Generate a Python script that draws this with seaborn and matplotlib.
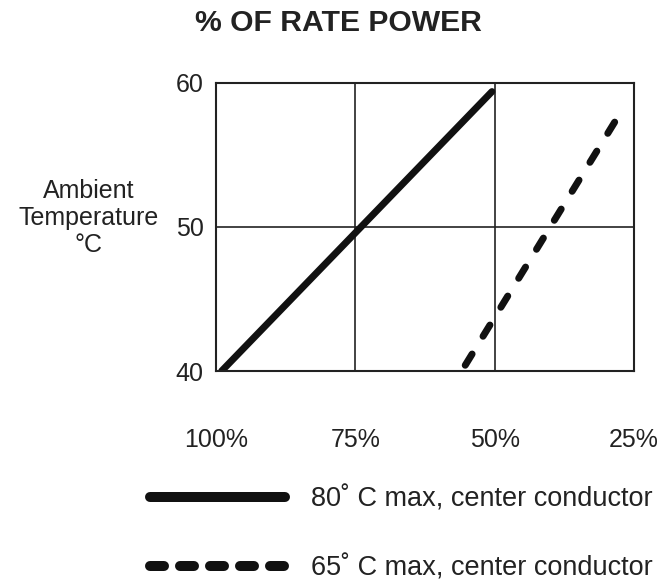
import pandas as pd
import matplotlib
matplotlib.use("Agg")
import matplotlib.pyplot as plt
from matplotlib.lines import Line2D
import seaborn as sns

sns.set_style("white")
plt.rcParams['font.family'] = ['Liberation Sans', 'DejaVu Sans']

# values
power_80 = [99, 50.5]
temp_80 = [40, 59.4]
power_65 = [55.3, 27.5]
temp_65 = [40.4, 57.9]

x_ticks = [100, 75, 50, 25]
x_labels = ['100%', '75%', '50%', '25%']
y_ticks = [40, 50, 60]

label_80 = '80˚ C max, center conductor'
label_65 = '65˚ C max, center conductor'

df80 = pd.DataFrame({'power': power_80, 'temp': temp_80})
df65 = pd.DataFrame({'power': power_65, 'temp': temp_65})

txt = '#222222'
fig = plt.figure(figsize=(6.71, 5.82), dpi=100)
ax = fig.add_axes([0.322, 0.3625, 0.623, 0.495])

sns.lineplot(data=df80, x='power', y='temp', ax=ax, color='#111111', lw=5,
             solid_capstyle='round', sort=False)
sns.lineplot(data=df65, x='power', y='temp', ax=ax, color='#111111', lw=5,
             sort=False)
ax.lines[1].set_dashes((1.9, 3.0))
ax.lines[1].set_dash_capstyle('round')

ax.set_xlim(100, 25)
ax.set_ylim(40, 60)
ax.set_xticks(x_ticks)
ax.set_xticklabels(x_labels)
ax.set_yticks(y_ticks)
ax.tick_params(axis='x', length=0, pad=41, labelsize=18, labelcolor=txt)
ax.tick_params(axis='y', length=0, pad=9, labelsize=18, labelcolor=txt)
ax.grid(True, color='#222222', lw=1.2)
for s in ax.spines.values():
    s.set_color('#222222')
    s.set_linewidth(1.5)

ax.set_xlabel('')
ax.set_ylabel('Ambient\nTemperature\n°C', rotation=0, ha='center', va='center',
              fontsize=18, color=txt, linespacing=1.14)
ax.yaxis.set_label_coords(-0.304, 0.531)

fig.suptitle('% OF RATE POWER', x=0.5045, y=0.9605, va='center',
             fontsize=21.7, fontweight='bold', color=txt)

h80 = Line2D([], [], color='#111111', lw=7.2, solid_capstyle='round')
h65 = Line2D([], [], color='#111111', lw=7.2, dash_capstyle='round', dashes=(1.4, 1.6))
fig.legend([h80, h65], [label_80, label_65], loc='upper left',
           bbox_to_anchor=(0.2235, 0.165), frameon=False, fontsize=19.5,
           handlelength=5.0, handletextpad=0.95, labelspacing=1.6,
           borderpad=0, borderaxespad=0, labelcolor=txt)

fig.savefig('out.png', dpi=100)
